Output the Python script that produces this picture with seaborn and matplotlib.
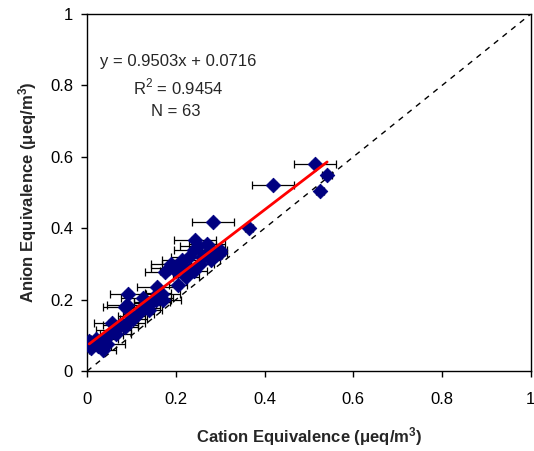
import numpy as np
import matplotlib
matplotlib.use("Agg")
import matplotlib.pyplot as plt
import seaborn as sns
import pandas as pd

# cation / anion equivalence (ueq/m3) and x uncertainty
cation = [0.010, 0.015, 0.020, 0.025, 0.030, 0.035, 0.040, 0.045, 0.005, 0.050,
          0.060, 0.065, 0.056, 0.075, 0.085, 0.090, 0.104, 0.115, 0.124, 0.085,
          0.090, 0.092, 0.126, 0.135, 0.146, 0.155, 0.163, 0.171, 0.158, 0.160,
          0.205, 0.176, 0.185, 0.190, 0.223, 0.200, 0.210, 0.215, 0.220, 0.230,
          0.240, 0.243, 0.250, 0.255, 0.260, 0.270, 0.280, 0.285, 0.290, 0.300,
          0.240, 0.270, 0.284, 0.365, 0.419, 0.513, 0.541, 0.525, 0.100, 0.140,
          0.170, 0.300, 0.020]
anion = [0.065, 0.075, 0.080, 0.070, 0.085, 0.060, 0.090, 0.075, 0.085, 0.100,
         0.115, 0.105, 0.134, 0.130, 0.125, 0.135, 0.146, 0.160, 0.176, 0.180,
         0.185, 0.216, 0.204, 0.190, 0.195, 0.200, 0.205, 0.200, 0.235, 0.220,
         0.241, 0.277, 0.290, 0.300, 0.263, 0.280, 0.300, 0.310, 0.290, 0.320,
         0.340, 0.367, 0.350, 0.300, 0.320, 0.330, 0.310, 0.335, 0.325, 0.340,
         0.280, 0.355, 0.417, 0.401, 0.521, 0.580, 0.549, 0.504, 0.155, 0.170,
         0.215, 0.330, 0.090]
cation_err = [0.020, 0.030, 0.025, 0.030, 0.020, 0.030, 0.030, 0.040, 0.010, 0.030,
              0.040, 0.035, 0.040, 0.040, 0.030, 0.040, 0.030, 0.035, 0.040, 0.050,
              0.045, 0.040, 0.050, 0.030, 0.040, 0.035, 0.030, 0.040, 0.045, 0.030,
              0.020, 0.045, 0.040, 0.045, 0.030, 0.035, 0.040, 0.045, 0.030, 0.040,
              0.045, 0.047, 0.040, 0.030, 0.030, 0.020, 0.020, 0.025, 0.015, 0.015,
              0.030, 0.040, 0.047, 0.010, 0.047, 0.047, 0.012, 0.010, 0.030, 0.030,
              0.040, 0.015, 0.030]
anion_err = 0.008

SLOPE = 0.9503
INTERCEPT = 0.0716
fit_label = "y = 0.9503x + 0.0716"
r2_label = "R$^2$ = 0.9454"
n_label = "N = 63"
tick_vals = [0, 0.2, 0.4, 0.6, 0.8, 1]
tick_labels = ["0", "0.2", "0.4", "0.6", "0.8", "1"]

df = pd.DataFrame({"cation": cation, "anion": anion, "xerr": cation_err})

sns.set_style("ticks")
plt.rcParams["font.family"] = ["Liberation Sans", "DejaVu Sans"]
plt.rcParams["mathtext.fontset"] = "custom"
plt.rcParams["mathtext.rm"] = "Liberation Sans"
plt.rcParams["mathtext.bf"] = "Liberation Sans:bold"

fig, ax = plt.subplots(figsize=(5.34, 4.51), dpi=100)
fig.subplots_adjust(left=0.163, right=0.994, top=0.969, bottom=0.177)

# 1:1 line
ax.plot([0, 1], [0, 1], color="black", linestyle=(0, (4, 4)), linewidth=1, zorder=1)

ax.errorbar(df["cation"], df["anion"], xerr=df["xerr"], yerr=anion_err,
            fmt="none", ecolor="black", elinewidth=0.9, capsize=3, capthick=0.9, zorder=2)
sns.scatterplot(data=df, x="cation", y="anion", marker="D", color="#000080",
                edgecolor="#000080", s=55, ax=ax, zorder=3)

xfit = np.array([min(cation), max(cation)])
sns.lineplot(x=xfit, y=SLOPE * xfit + INTERCEPT, color="red", linewidth=2, ax=ax, zorder=4)

ax.text(0.205, 0.866, fit_label, ha="center", va="center", fontsize=12)
ax.text(0.205, 0.795, r2_label, ha="center", va="center", fontsize=12)
ax.text(0.199, 0.726, n_label, ha="center", va="center", fontsize=12)

ax.set_xlim(0, 1)
ax.set_ylim(0, 1)
ax.set_xticks(tick_vals)
ax.set_yticks(tick_vals)
ax.set_xticklabels(tick_labels)
ax.set_yticklabels(tick_labels)
ax.tick_params(direction="out", length=4.3, width=1, labelsize=12, colors="black")
ax.tick_params(axis="x", pad=10.8)
ax.tick_params(axis="y", pad=5.8)
for sp in ax.spines.values():
    sp.set_visible(True)
    sp.set_color("black")
    sp.set_linewidth(1)

ax.set_xlabel("Cation Equivalence (\u03bceq/m$\\mathbf{^3}$)", fontsize=12, fontweight="bold", labelpad=13)
ax.set_ylabel("Anion Equivalence (\u03bceq/m$\\mathbf{^3}$)", fontsize=12, fontweight="bold", labelpad=8)

fig.savefig("out.png", dpi=100)
